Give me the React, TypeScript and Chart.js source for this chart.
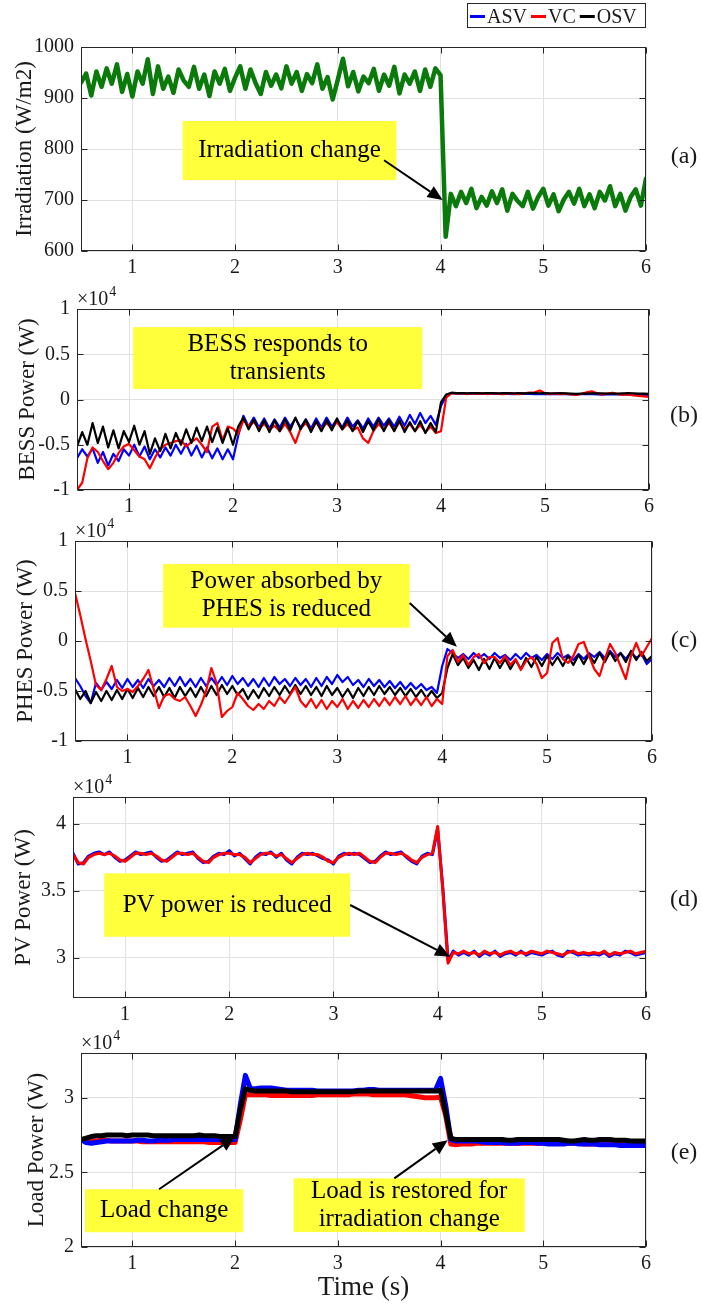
import React, { useEffect, useRef } from 'react';
import { Chart, registerables } from 'chart.js';
Chart.register(...registerables);

const FONT = '"Liberation Serif", "Times New Roman", serif';
Chart.defaults.font.family = FONT;

// ---------- data ----------
const TIME = [
  0.5, 0.55, 0.6, 0.65, 0.7, 0.75, 0.8, 0.85, 0.9, 0.95,
  1, 1.05, 1.1, 1.15, 1.2, 1.25, 1.3, 1.35, 1.4, 1.45,
  1.5, 1.55, 1.6, 1.65, 1.7, 1.75, 1.8, 1.85, 1.9, 1.95,
  2, 2.05, 2.1, 2.15, 2.2, 2.25, 2.3, 2.35, 2.4, 2.45,
  2.5, 2.55, 2.6, 2.65, 2.7, 2.75, 2.8, 2.85, 2.9, 2.95,
  3, 3.05, 3.1, 3.15, 3.2, 3.25, 3.3, 3.35, 3.4, 3.45,
  3.5, 3.55, 3.6, 3.65, 3.7, 3.75, 3.8, 3.85, 3.9, 3.95,
  4, 4.05, 4.1, 4.15, 4.2, 4.25, 4.3, 4.35, 4.4, 4.45,
  4.5, 4.55, 4.6, 4.65, 4.7, 4.75, 4.8, 4.85, 4.9, 4.95,
  5, 5.05, 5.1, 5.15, 5.2, 5.25, 5.3, 5.35, 5.4, 5.45,
  5.5, 5.55, 5.6, 5.65, 5.7, 5.75, 5.8, 5.85, 5.9, 5.95,
  6,
];

const X_TICKS = [1, 2, 3, 4, 5, 6];
const SERIES_NAMES = ['ASV', 'VC', 'OSV'];
const SERIES_COLORS = ['#0000ff', '#ff0000', '#000000'];
const IRR_COLOR = '#0a7a0a';

// (a) Irradiation (W/m2)
const IRRADIATION = [
  930, 948, 905, 952, 922, 958, 928, 966, 912, 947,
  903, 952, 928, 976, 908, 962, 918, 942, 910, 956,
  934, 922, 961, 918, 946, 904, 952, 928, 957, 914,
  940, 962, 918, 956, 929, 908, 951, 924, 946, 919,
  962, 928, 951, 914, 947, 929, 966, 918, 941, 897,
  936, 977, 923, 951, 913, 942, 929, 957, 914, 946,
  924, 961, 909, 946, 928, 952, 914, 956, 922, 958,
  945, 628, 712, 688, 716, 694, 722, 684, 706, 689,
  717, 694, 721, 679, 712, 698, 688, 716, 683, 706,
  722, 689, 711, 678, 701, 716, 693, 722, 688, 711,
  684, 716, 699, 727, 688, 712, 679, 706, 721, 689,
  742,
];

// (b) BESS power (W)
const BESS_ASV = [
  -6500, -5500, -6300, -5400, -7000, -5800, -7300, -6000, -6800, -5500,
  -6200, -5000, -6300, -5200, -6600, -5500, -6400, -5300, -6200, -5000,
  -6000, -4900, -6200, -5100, -6400, -5300, -6500, -5400, -6600, -5500,
  -6600, -4000, -1800, -3000, -2000, -3100, -2100, -3200, -2200, -3100,
  -2000, -3000, -2100, -3100, -2200, -3200, -2100, -3100, -2000, -3000,
  -2200, -3100, -2000, -3000, -2300, -3200, -2100, -3000, -2000, -2900,
  -2100, -3000, -1900, -2900, -1700, -2700, -1500, -2600, -1800, -2800,
  -700, 400, 700, 650, 680, 640, 660, 650, 630, 650,
  640, 620, 650, 630, 600, 620, 640, 610, 600, 620,
  600, 580, 600, 620, 590, 560, 570, 590, 600, 580,
  560, 540, 560, 580, 570, 550, 540, 520, 500, 480,
  460,
];
const BESS_VC = [
  -10000, -9200, -6500, -5300, -5800, -6800, -7700, -7000, -5900, -5200,
  -4900, -5600, -6300, -6600, -7600, -6400, -5500, -5000, -4800, -4600,
  -4500, -5200, -4700, -4300, -5000, -5800, -3000, -2600, -4500, -3000,
  -3200, -3800, -2300, -2900, -2500, -3200, -2700, -3300, -2900, -3500,
  -2700, -3600, -4800, -3200, -2600, -3400, -2500, -3300, -2600, -3200,
  -2500, -3300, -2700, -3400, -3100, -4300, -4800, -3500, -2700, -3300,
  -2600, -3400, -2500, -3300, -2700, -3500, -2800, -3600, -3000, -3700,
  -3500, 200, 700, 650, 700, 600, 700, 620, 680, 600,
  700, 630, 580, 700, 640, 600, 680, 750, 800, 1000,
  700, 600, 680, 580, 650, 550, 500, 620, 800, 900,
  700, 560, 650, 750, 600, 500, 550, 450, 400, 350,
  300,
];
const BESS_OSV = [
  -5200, -3600, -5000, -2600, -4800, -3000, -5300, -3400, -5400, -3500,
  -4700, -2900, -5000, -3500, -6000, -4300, -5700, -3800, -5400, -3700,
  -5000, -3300, -4800, -3100, -4600, -3000, -4700, -3100, -4800, -3200,
  -5000, -3000, -2000, -3300, -2200, -3500, -2300, -3600, -2300, -3500,
  -2200, -3400, -2000, -3300, -2200, -3600, -2400, -3500, -2300, -3400,
  -2100, -3300, -2300, -3500, -2400, -3600, -2400, -3400, -2200, -3500,
  -2300, -3500, -2300, -3600, -2500, -3500, -2400, -3700, -2600, -3600,
  -300, 550, 750, 700, 720, 680, 700, 720, 690, 700,
  710, 680, 700, 720, 690, 700, 680, 710, 700, 690,
  700, 680, 690, 710, 680, 650, 620, 640, 660, 680,
  690, 670, 650, 640, 660, 680, 700, 690, 660, 640,
  620,
];

// (c) PHES power (W)
const PHES_ASV = [
  -3700, -4500, -5500, -6200, -4200, -4900, -4100, -4800, -3900, -4700,
  -3800, -4600, -3900, -4700, -3800, -4500, -3900, -4600, -3700, -4500,
  -3600, -4500, -3800, -4600, -3700, -4500, -3700, -4400, -3600, -4400,
  -3500, -4300, -3700, -4500, -3800, -4600, -3700, -4500, -3600, -4300,
  -3800, -4500, -3700, -4400, -3800, -4600, -3700, -4500, -3600, -4300,
  -3400, -4100, -3600, -4400, -3900, -4600, -3800, -4500, -3900, -4600,
  -4000, -4700, -4100, -4800, -4200, -4800, -4300, -4900, -4600, -5200,
  -2500, -800, -1200, -1700, -1300, -1800, -1200, -1700, -1300, -1800,
  -1200, -1700, -1400, -1900, -1300, -1800, -1200, -1700, -1400, -1900,
  -1300, -1800, -1200, -1700, -1400, -1900, -1300, -1800, -1200, -1600,
  -1100, -1700, -1000, -1600, -1200, -1800, -1100, -1700, -1300, -2300,
  -1800,
];
const PHES_VC = [
  4800, 2600, 200, -2000, -4400, -4900, -3800, -2500, -4600, -5000,
  -4800, -5100, -4500, -3800, -2900, -4800, -6700, -5500, -5300, -5800,
  -6000, -5600, -6500, -7500, -6400, -5000, -2700, -4200, -7600, -7000,
  -6600, -5200, -5800, -6500, -6900, -6300, -6800, -6000, -6500, -5600,
  -6200, -5400, -4600, -6000, -6600, -5800, -6700, -5900, -6800, -6000,
  -6600, -5800, -6800, -6000, -6700, -5900, -6600, -5800, -6500, -5700,
  -6400, -5600, -6300, -5500, -6400, -5700, -6400, -5600, -6500, -5800,
  -6300, -1500, -900, -2100, -1400, -2400, -1600, -1300, -2200, -1600,
  -1600, -2200, -1500, -2400, -1800, -2900, -2000, -1600, -2300, -3700,
  -3200, -200, 300, -1800, -2200, -1500, -300, -100, -1500, -2800,
  -3500, -1800, -300, -1200, -2500, -3800, -1500, -200, -1500, -600,
  300,
];
const PHES_OSV = [
  -4800, -5800, -5000, -6200, -5100, -6000, -5000, -5900, -4900, -5800,
  -4800, -5700, -4700, -5600, -4600, -5500, -4600, -5600, -4700, -5700,
  -4600, -5500, -4700, -5600, -4600, -5500, -4500, -5400, -4400, -5300,
  -4500, -5400, -4800, -5800, -4900, -5700, -4700, -5500, -4600, -5400,
  -4500, -5300, -4400, -5300, -4500, -5400, -4600, -5500, -4500, -5400,
  -4700, -5600, -4800, -5700, -4700, -5500, -4600, -5400, -4500, -5300,
  -4600, -5400, -4700, -5500, -4800, -5600, -4900, -5700, -5000, -5700,
  -5200, -2700, -1300, -2400, -1700, -2700, -1900, -2900, -1800, -2800,
  -1700, -2700, -1800, -2800, -1900, -2800, -1700, -2600, -1600, -2500,
  -1500, -2400, -1600, -2500, -1500, -2400, -1400, -2300, -1300, -2200,
  -1200, -2100, -1100, -2000, -1200, -2100, -1000, -1900, -1100, -2000,
  -1500,
];

// (d) PV power (W)
const PV_ASV = [
  37800, 37000, 37100, 37600, 37800, 37900, 37700, 37900, 37500, 37200,
  37300, 37600, 37900, 37700, 37800, 37900, 37500, 37200, 37300, 37600,
  37900, 37700, 37800, 37900, 37400, 37100, 37200, 37600, 37800, 37700,
  38000, 37600, 37800, 37400, 37000, 37500, 37800, 37700, 37900, 37500,
  37800, 37300, 37000, 37500, 37800, 37700, 37800, 37600, 37400, 37300,
  37000, 37600, 37800, 37700, 37800, 37700, 37400, 37100, 37200, 37600,
  37900, 37700, 37800, 37900, 37500, 37200, 37000, 37600, 37800, 37700,
  39600, 35200, 29800, 30500, 30200, 30400, 30200, 30500, 30100, 30400,
  30200, 30500, 30100, 30300, 30400, 30200, 30500, 30200, 30400, 30300,
  30200, 30400, 30500, 30200, 30100, 30500, 30400, 30200, 30300, 30200,
  30300, 30200, 30400, 30100, 30300, 30200, 30500, 30400, 30200, 30300,
  30400,
];
const PV_VC = [
  37700, 37100, 37000, 37500, 37700, 37800, 37700, 37800, 37600, 37300,
  37200, 37500, 37800, 37800, 37700, 37800, 37600, 37300, 37200, 37500,
  37800, 37800, 37700, 37800, 37500, 37200, 37100, 37500, 37700, 37800,
  37800, 37700, 37700, 37500, 37100, 37400, 37700, 37800, 37800, 37600,
  37700, 37400, 37100, 37400, 37700, 37800, 37700, 37700, 37500, 37200,
  37100, 37500, 37700, 37800, 37700, 37800, 37500, 37200, 37100, 37500,
  37800, 37800, 37700, 37800, 37600, 37300, 37100, 37500, 37700, 37800,
  39800, 35000, 29600, 30400, 30300, 30500, 30300, 30400, 30200, 30500,
  30300, 30400, 30200, 30400, 30500, 30300, 30400, 30300, 30500, 30400,
  30300, 30500, 30400, 30300, 30200, 30400, 30500, 30300, 30400, 30300,
  30400, 30300, 30500, 30200, 30400, 30300, 30400, 30500, 30300, 30400,
  30500,
];

// (e) Load power (W)
const LOAD_ASV = [
  27200, 27000, 26950, 27000, 27050, 27100, 27100, 27100, 27100, 27100,
  27100, 27150, 27150, 27100, 27100, 27150, 27150, 27150, 27200, 27200,
  27200, 27200, 27200, 27200, 27200, 27200, 27200, 27200, 27200, 27200,
  27200, 29500, 31500, 30600, 30600, 30650, 30650, 30650, 30600, 30550,
  30500, 30500, 30500, 30500, 30500, 30500, 30450, 30450, 30450, 30450,
  30450, 30450, 30450, 30450, 30500, 30500, 30550, 30550, 30500, 30500,
  30500, 30500, 30500, 30500, 30500, 30500, 30500, 30500, 30500, 30500,
  31300, 29500, 27200, 27100, 27100, 27100, 27100, 27100, 27050, 27000,
  27000, 27000, 27000, 26950, 26950, 26950, 27000, 27000, 27000, 26950,
  26950, 26900, 26900, 26900, 26900, 26950, 26950, 26900, 26900, 26900,
  26900, 26850, 26850, 26850, 26850, 26800, 26800, 26800, 26800, 26800,
  26800,
];
const LOAD_VC = [
  27200, 27100, 27100, 27100, 27150, 27150, 27100, 27100, 27100, 27100,
  27100, 27100, 27050, 27050, 27050, 27050, 27050, 27050, 27050, 27050,
  27050, 27050, 27050, 27050, 27050, 27000, 27000, 27000, 27000, 27000,
  27000, 28500, 30200, 30200, 30200, 30200, 30200, 30150, 30150, 30150,
  30150, 30150, 30150, 30150, 30150, 30150, 30200, 30200, 30200, 30200,
  30200, 30200, 30200, 30250, 30250, 30250, 30250, 30200, 30200, 30200,
  30200, 30200, 30200, 30200, 30150, 30100, 30050, 30000, 30000, 30000,
  30050, 28800, 26900, 26850, 26900, 26900, 26900, 26950, 26950, 26950,
  26950, 26950, 26950, 26950, 26950, 26950, 26950, 26950, 26950, 26950,
  26950, 26950, 26950, 26950, 26950, 26950, 26950, 26950, 26900, 26900,
  26900, 26900, 26900, 26900, 26900, 26900, 26900, 26900, 26850, 26850,
  26850,
];
const LOAD_OSV = [
  27200, 27300, 27400, 27450, 27450, 27500, 27500, 27500, 27500, 27450,
  27500, 27500, 27500, 27500, 27450, 27450, 27450, 27450, 27450, 27450,
  27450, 27450, 27450, 27500, 27450, 27450, 27450, 27400, 27400, 27400,
  27400, 29200, 30600, 30500, 30450, 30450, 30450, 30450, 30450, 30450,
  30450, 30400, 30400, 30400, 30400, 30400, 30400, 30400, 30400, 30400,
  30400, 30400, 30400, 30400, 30450, 30450, 30450, 30450, 30450, 30450,
  30450, 30450, 30450, 30450, 30450, 30450, 30450, 30450, 30450, 30450,
  30500, 29000, 27300, 27200, 27200, 27200, 27200, 27200, 27200, 27200,
  27200, 27200, 27200, 27150, 27150, 27200, 27200, 27200, 27200, 27200,
  27200, 27200, 27200, 27200, 27150, 27100, 27100, 27150, 27200, 27150,
  27150, 27200, 27200, 27200, 27150, 27150, 27150, 27100, 27100, 27100,
  27100,
];

// ---------- panel configuration ----------
type Note = { lines: string[]; box: number[]; arrow?: number[] };
type Series = { name: string; color: string; values: number[]; width: number };
type Frame = { left: number; right: number; top: number; bottom: number; canvasTop: number; canvasBottom: number; titlePad: number; labelDy: number };
type Panel = {
  key: string; label: string; yTitle: string; xTitle?: string;
  yMin: number; yMax: number; yTicks: number[]; factor: number; exponent: boolean;
  series: Series[]; notes: Note[]; frame: Frame; legend?: boolean;
};

const PANELS: Panel[] = [
  {
    key: 'a', label: '(a)', yTitle: 'Irradiation (W/m2)',
    yMin: 600, yMax: 1000, yTicks: [600, 700, 800, 900, 1000], factor: 1, exponent: false,
    series: [{ name: 'Irradiation', color: IRR_COLOR, values: IRRADIATION, width: 4.5 }],
    notes: [{ lines: ['Irradiation change'], box: [1.49, 3.57, 855, 739], arrow: [3.45, 778, 4.02, 700] }],
    frame: { left: 81, right: 646, top: 47, bottom: 251, canvasTop: 0, canvasBottom: 282, titlePad: 11, labelDy: 8 },
    legend: true,
  },
  {
    key: 'b', label: '(b)', yTitle: 'BESS Power (W)',
    yMin: -10000, yMax: 10000, yTicks: [-10000, -5000, 0, 5000, 10000], factor: 10000, exponent: true,
    series: [
      { name: SERIES_NAMES[0], color: SERIES_COLORS[0], values: BESS_ASV, width: 2.2 },
      { name: SERIES_NAMES[1], color: SERIES_COLORS[1], values: BESS_VC, width: 2.2 },
      { name: SERIES_NAMES[2], color: SERIES_COLORS[2], values: BESS_OSV, width: 2.2 },
    ],
    notes: [{ lines: ['BESS responds to', 'transients'], box: [1.04, 3.82, 8000, 1160] }],
    frame: { left: 77, right: 649, top: 309, bottom: 490, canvasTop: 269, canvasBottom: 520, titlePad: 14, labelDy: 16 },
  },
  {
    key: 'c', label: '(c)', yTitle: 'PHES Power (W)',
    yMin: -10000, yMax: 10000, yTicks: [-10000, -5000, 0, 5000, 10000], factor: 10000, exponent: true,
    series: [
      { name: SERIES_NAMES[0], color: SERIES_COLORS[0], values: PHES_ASV, width: 2.2 },
      { name: SERIES_NAMES[2], color: SERIES_COLORS[2], values: PHES_OSV, width: 2.2 },
      { name: SERIES_NAMES[1], color: SERIES_COLORS[1], values: PHES_VC, width: 2.2 },
    ],
    notes: [{ lines: ['Power absorbed by', 'PHES is reduced'], box: [1.34, 3.69, 7700, 1330], arrow: [3.69, 3800, 4.14, -570] }],
    frame: { left: 75, right: 652, top: 541, bottom: 741, canvasTop: 501, canvasBottom: 772, titlePad: 12, labelDy: 0 },
  },
  {
    key: 'd', label: '(d)', yTitle: 'PV Power (W)',
    yMin: 27000, yMax: 42000, yTicks: [30000, 35000, 40000], factor: 10000, exponent: true,
    series: [
      { name: SERIES_NAMES[0], color: SERIES_COLORS[0], values: PV_ASV, width: 3 },
      { name: SERIES_NAMES[1], color: SERIES_COLORS[1], values: PV_VC, width: 3 },
    ],
    notes: [{ lines: ['PV power is reduced'], box: [0.8, 3.16, 36300, 31570], arrow: [3.16, 33940, 4.12, 30080] }],
    frame: { left: 73, right: 646, top: 797, bottom: 998, canvasTop: 757, canvasBottom: 1028, titlePad: 10, labelDy: 2 },
  },
  {
    key: 'e', label: '(e)', yTitle: 'Load Power (W)', xTitle: 'Time (s)',
    yMin: 20000, yMax: 33000, yTicks: [20000, 25000, 30000], factor: 10000, exponent: true,
    series: [
      { name: SERIES_NAMES[1], color: SERIES_COLORS[1], values: LOAD_VC, width: 5 },
      { name: SERIES_NAMES[0], color: SERIES_COLORS[0], values: LOAD_ASV, width: 5 },
      { name: SERIES_NAMES[2], color: SERIES_COLORS[2], values: LOAD_OSV, width: 5 },
    ],
    notes: [
      { lines: ['Load change'], box: [0.54, 2.08, 23870, 20990], arrow: [1.26, 23870, 2.0, 27380] },
      { lines: ['Load is restored for', 'irradiation change'], box: [2.57, 4.82, 24600, 21000], arrow: [3.55, 24600, 4.07, 27160] },
    ],
    frame: { left: 81, right: 646, top: 1053, bottom: 1247, canvasTop: 1013, canvasBottom: 1307, titlePad: 23, labelDy: 3 },
  },
];

const W = 702;
const AXIS = '#262626';
const GRID = '#e1e1e1';
const TEXT = '#1a1a1a';
const NOTE_BG = '#ffff3c';

function fmt(v: number) {
  return String(Math.round(v * 100) / 100);
}

function drawArrow(ctx: CanvasRenderingContext2D, x0: number, y0: number, x1: number, y1: number) {
  const ang = Math.atan2(y1 - y0, x1 - x0);
  const hl = 15, hw = 6.5;
  const bx = x1 - hl * Math.cos(ang), by = y1 - hl * Math.sin(ang);
  ctx.strokeStyle = '#000';
  ctx.lineWidth = 2;
  ctx.beginPath();
  ctx.moveTo(x0, y0);
  ctx.lineTo(bx, by);
  ctx.stroke();
  ctx.fillStyle = '#000';
  ctx.beginPath();
  ctx.moveTo(x1, y1);
  ctx.lineTo(bx - hw * Math.sin(ang), by + hw * Math.cos(ang));
  ctx.lineTo(bx + hw * Math.sin(ang), by - hw * Math.cos(ang));
  ctx.closePath();
  ctx.fill();
}

function decorPlugin(panel: Panel) {
  return {
    id: 'decor' + panel.key,
    afterDatasetsDraw(chart: any) {
      const { ctx, scales } = chart;
      const xs = scales.x, ys = scales.y;
      ctx.save();
      for (const n of panel.notes) {
        const x0 = xs.getPixelForValue(n.box[0]);
        const x1 = xs.getPixelForValue(n.box[1]);
        const y0 = ys.getPixelForValue(n.box[2]);
        const y1 = ys.getPixelForValue(n.box[3]);
        ctx.fillStyle = NOTE_BG;
        ctx.fillRect(x0, y0, x1 - x0, y1 - y0);
        ctx.fillStyle = '#000';
        ctx.font = `25px ${FONT}`;
        ctx.textAlign = 'center';
        ctx.textBaseline = 'middle';
        const cx = (x0 + x1) / 2, cy = (y0 + y1) / 2, lh = 28;
        n.lines.forEach((t, i) => ctx.fillText(t, cx, cy + (i - (n.lines.length - 1) / 2) * lh));
        if (n.arrow) {
          drawArrow(ctx,
            xs.getPixelForValue(n.arrow[0]), ys.getPixelForValue(n.arrow[1]),
            xs.getPixelForValue(n.arrow[2]), ys.getPixelForValue(n.arrow[3]));
        }
      }
      ctx.restore();
    },
    afterDraw(chart: any) {
      const { ctx, chartArea: a, scales } = chart;
      const xs = scales.x, ys = scales.y;
      ctx.save();
      const L = Math.round(a.left) + 0.5, R = Math.round(a.right) - 0.5;
      const T = Math.round(a.top) + 0.5, B = Math.round(a.bottom) - 0.5;
      ctx.strokeStyle = AXIS;
      ctx.lineWidth = 1;
      ctx.strokeRect(L, T, R - L, B - T);
      const tl = 6;
      ctx.beginPath();
      for (const v of X_TICKS) {
        const px = Math.round(xs.getPixelForValue(v)) + 0.5;
        ctx.moveTo(px, B); ctx.lineTo(px, B - tl);
        ctx.moveTo(px, T); ctx.lineTo(px, T + tl);
      }
      for (const v of panel.yTicks) {
        const py = Math.round(ys.getPixelForValue(v)) + 0.5;
        ctx.moveTo(L, py); ctx.lineTo(L + tl, py);
        ctx.moveTo(R, py); ctx.lineTo(R - tl, py);
      }
      ctx.stroke();
      if (panel.exponent) {
        ctx.fillStyle = TEXT;
        ctx.textAlign = 'left';
        ctx.textBaseline = 'alphabetic';
        ctx.font = `20px ${FONT}`;
        ctx.fillText('\u00d710', a.left, a.top - 4);
        const w = ctx.measureText('\u00d710').width;
        ctx.font = `14px ${FONT}`;
        ctx.fillText('4', a.left + w + 1, a.top - 13);
      }
      ctx.fillStyle = TEXT;
      ctx.font = `24px ${FONT}`;
      ctx.textAlign = 'center';
      ctx.textBaseline = 'middle';
      ctx.fillText(panel.label, 684, (a.top + a.bottom) / 2 + panel.frame.labelDy);
      if (panel.legend) {
        const lx0 = 467, lx1 = 646, ly0 = 3, ly1 = 28;
        ctx.fillStyle = '#fff';
        ctx.fillRect(lx0, ly0, lx1 - lx0, ly1 - ly0);
        ctx.strokeStyle = AXIS;
        ctx.lineWidth = 1;
        ctx.strokeRect(lx0 + 0.5, ly0 + 0.5, lx1 - lx0 - 1, ly1 - ly0 - 1);
        ctx.font = `20px ${FONT}`;
        ctx.textAlign = 'left';
        ctx.textBaseline = 'middle';
        let x = lx0 + 3;
        const cy = (ly0 + ly1) / 2 + 1;
        SERIES_NAMES.forEach((name, i) => {
          ctx.strokeStyle = SERIES_COLORS[i];
          ctx.lineWidth = 3;
          ctx.beginPath();
          ctx.moveTo(x, cy);
          ctx.lineTo(x + 15, cy);
          ctx.stroke();
          ctx.fillStyle = TEXT;
          ctx.fillText(name, x + 17, cy + 1);
          x += 17 + ctx.measureText(name).width + 4;
        });
      }
      ctx.restore();
    },
  };
}

function PanelChart({ panel }: { panel: Panel }) {
  const ref = useRef<HTMLCanvasElement>(null);
  const f = panel.frame;
  const height = f.canvasBottom - f.canvasTop;
  useEffect(() => {
    const n = panel.series.length;
    const chart = new Chart(ref.current as HTMLCanvasElement, {
      type: 'line',
      data: {
        datasets: panel.series.map((s, i) => ({
          label: s.name,
          data: s.values.map((v, k) => ({ x: TIME[k], y: v })),
          borderColor: s.color,
          backgroundColor: s.color,
          borderWidth: s.width,
          pointRadius: 0,
          tension: 0,
          fill: false,
          borderJoinStyle: 'round',
          borderCapStyle: 'round',
          order: n - i,
        })),
      } as any,
      options: {
        animation: false,
        responsive: false,
        events: [],
        layout: { padding: { top: f.top - f.canvasTop, right: W - f.right, bottom: 0, left: 0 } },
        plugins: { legend: { display: false }, tooltip: { enabled: false } },
        scales: {
          x: {
            type: 'linear',
            min: 0.5,
            max: 6,
            afterBuildTicks: (s: any) => { s.ticks = X_TICKS.map((v) => ({ value: v })); },
            afterFit: (s: any) => { s.height = f.canvasBottom - f.bottom; },
            grid: { color: GRID, drawTicks: false, lineWidth: 1 },
            border: { display: false },
            ticks: { padding: 5, color: TEXT, font: { size: 20 }, maxRotation: 0, autoSkip: false, callback: (v: any) => fmt(Number(v)) },
            title: panel.xTitle
              ? { display: true, text: panel.xTitle, color: TEXT, font: { size: 27 }, padding: { top: 0, bottom: 3 } }
              : { display: false },
          },
          y: {
            type: 'linear',
            min: panel.yMin,
            max: panel.yMax,
            afterBuildTicks: (s: any) => { s.ticks = panel.yTicks.map((v) => ({ value: v })); },
            afterFit: (s: any) => { s.width = f.left; },
            grid: { color: GRID, drawTicks: false, lineWidth: 1 },
            border: { display: false },
            ticks: { padding: 7, color: TEXT, font: { size: 20 }, autoSkip: false, callback: (v: any) => fmt(Number(v) / panel.factor) },
            title: { display: true, text: panel.yTitle, color: TEXT, font: { size: 23 }, padding: { top: f.titlePad, bottom: 0 } },
          },
        },
      } as any,
      plugins: [decorPlugin(panel)],
    });
    return () => chart.destroy();
  }, [panel]);
  return (
    <canvas
      ref={ref}
      width={W}
      height={height}
      style={{ position: 'absolute', left: 0, top: f.canvasTop, width: W, height }}
    />
  );
}

export default function App() {
  useEffect(() => {
    document.body.style.margin = '0';
    document.body.style.background = '#fff';
  }, []);
  return (
    <div style={{ position: 'relative', width: W, height: 1307, background: '#fff', overflow: 'hidden' }}>
      <style>{'body{margin:0;background:#fff;}'}</style>
      {PANELS.map((p) => (
        <PanelChart key={p.key} panel={p} />
      ))}
    </div>
  );
}
